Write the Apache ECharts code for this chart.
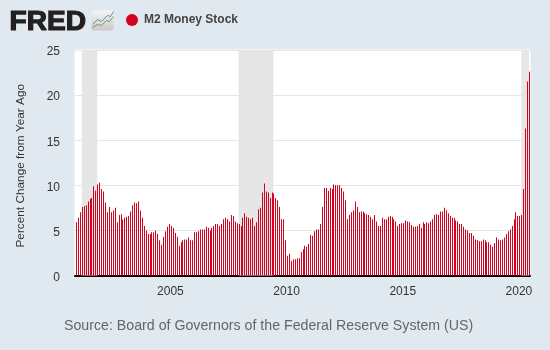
<!DOCTYPE html>
<html>
<head>
<meta charset="utf-8">
<style>
  html, body { margin: 0; padding: 0; background: #e1e9f0; }
  #main { width: 550px; height: 350px; }
</style>
<script src="https://cdn.jsdelivr.net/npm/echarts@6/dist/echarts.min.js"></script>
</head>
<body>
<div id="main"></div>
<script>
// one row per year, percent change from year ago
let m2Change = [
  5.9, 6.4, 7.0, 7.6, 7.7, 7.8, 8.2, 8.5, 8.6, 9.9, 9.4, 10.1,
  10.3, 9.6, 9.3, 8.1, 7.0, 7.6, 7.0, 7.2, 7.5, 5.9, 6.7, 6.8,
  6.2, 6.4, 6.5, 6.6, 7.1, 7.8, 8.1, 8.0, 8.2, 7.2, 6.4, 5.5,
  5.0, 4.6, 4.6, 4.8, 4.8, 5.0, 4.6, 3.9, 3.4, 4.3, 4.9, 5.4,
  5.7, 5.5, 5.3, 4.7, 4.3, 3.3, 3.7, 3.9, 4.0, 4.0, 4.2, 3.9,
  3.9, 4.8, 4.8, 4.9, 5.1, 5.1, 5.1, 5.4, 5.3, 5.0, 5.3, 5.5,
  5.7, 5.7, 5.5, 5.7, 6.25, 6.4, 6.25, 6.0, 6.7, 6.6, 6.0, 5.8,
  5.7, 5.5, 6.4, 6.9, 6.5, 6.4, 6.25, 6.4, 5.5, 5.9, 7.35, 7.5,
  9.2, 10.2, 9.3, 9.2, 8.6, 9.2, 9.1, 8.6, 8.35, 7.6, 6.25, 6.25,
  3.9, 2.2, 2.4, 1.6, 1.8, 1.8, 1.9, 1.9, 2.6, 2.9, 3.3, 3.2,
  3.5, 4.5, 4.4, 4.9, 5.1, 5.1, 5.7, 7.6, 9.7, 9.7, 9.4, 9.7,
  9.6, 10.1, 10.0, 10.0, 10.0, 9.7, 9.3, 8.35, 6.25, 6.7, 7.0, 7.2,
  8.2, 7.6, 7.0, 7.1, 7.1, 6.9, 6.8, 6.7, 6.5, 6.25, 6.7, 6.0,
  5.5, 5.5, 6.4, 6.25, 6.25, 6.5, 6.6, 6.5, 6.25, 6.0, 5.5, 5.7,
  5.8, 5.8, 6.1, 6.0, 5.9, 5.6, 5.4, 5.4, 5.5, 5.7, 5.3, 5.9,
  5.7, 5.9, 5.8, 6.0, 6.25, 6.7, 6.8, 6.7, 7.1, 7.1, 7.5, 7.2,
  6.9, 6.6, 6.4, 6.4, 6.1, 6.0, 5.7, 5.7, 5.4, 5.1, 5.0, 4.7,
  4.7, 4.4, 4.0, 3.9, 3.8, 3.8, 4.0, 3.9, 3.7, 3.7, 3.4, 3.2,
  3.6, 4.2, 4.0, 3.9, 4.0, 4.2, 4.6, 4.9, 5.1, 5.5, 6.25, 7.0,
  6.6, 6.6, 6.7, 9.6, 16.3, 21.5, 22.6
]
let tickYears = ["2005", "2010", "2015", "2020"]
let recessions = [["2001-04", "2001-12"], ["2008-01", "2009-07"], ["2020-03", "2020-07"]]

let months = m2Change.map((v, i) => {
  let year = 2001 + Math.floor(i / 12)
  let month = (i % 12) + 1
  return year + "-" + (month < 10 ? "0" + month : month)
})

function isTick(index, value) {
  return value.endsWith("-01") && tickYears.includes(value.slice(0, 4))
}

// plain bar antialiases to pink at this width, so snap each bar to a whole pixel
function renderBar(params, api) {
  let top = api.coord([api.value(0), api.value(1)])
  let base = api.coord([api.value(0), 0])
  return {
    type: 'rect',
    shape: { x: Math.round(top[0]), y: top[1], width: 1, height: base[1] - top[1] },
    style: { fill: api.visual('color') }
  }
}

var myChart = echarts.init(document.getElementById('main'))

var option = {
  backgroundColor: '#e1e9f0',
  animation: false,
  textStyle: { fontFamily: 'Liberation Sans' },
  legend: {
    left: 121,
    top: 9,
    itemWidth: 12,
    itemHeight: 12,
    icon: 'circle',
    textStyle: { fontSize: 12, fontWeight: 'bold', color: '#444', fontFamily: 'Liberation Sans', padding: [0, 0, 0, 1] }
  },
  grid: {
    left: 75,
    width: 455,
    top: 50,
    height: 225.5,
    show: true,
    backgroundColor: '#fff',
    borderColor: '#fff',
    borderWidth: 1
  },
  xAxis: {
    type: 'category',
    data: months,
    axisLine: { lineStyle: { color: '#000', width: 2 } },
    axisTick: { interval: isTick, length: 10, lineStyle: { color: '#c0d0e0' }, alignWithLabel: true },
    axisLabel: {
      interval: isTick,
      formatter: v => v.slice(0, 4),
      color: '#333',
      fontSize: 12,
      margin: 10,
      padding: [0, 0, 0, 3]
    },
    splitLine: { show: false }
  },
  yAxis: {
    type: 'value',
    min: 0,
    max: 25,
    interval: 5,
    name: 'Percent Change from Year Ago',
    nameLocation: 'middle',
    nameGap: 48,
    nameTextStyle: { color: '#333', fontSize: 11.8, padding: [0, 6, 0, 0] },
    axisLine: { show: false },
    axisTick: { show: false },
    // top aligned with a small line height sits the numbers just under each gridline
    axisLabel: {
      color: '#333',
      fontSize: 12,
      margin: 15,
      verticalAlign: 'top',
      verticalAlignMinLabel: 'top',
      verticalAlignMaxLabel: 'top',
      lineHeight: 4
    },
    splitLine: { lineStyle: { color: '#e6e6e6', width: 1 } }
  },
  series: [
    {
      name: 'M2 Money Stock',
      type: 'custom',
      renderItem: renderBar,
      data: months.map((m, i) => [m, m2Change[i]]),
      encode: { x: 0, y: 1 },
      itemStyle: { color: '#d6001f' },
      markArea: {
        silent: true,
        itemStyle: { color: '#e6e6e6' },
        data: recessions.map(r => [{ xAxis: r[0], yAxis: 0 }, { xAxis: r[1], yAxis: 25 }])
      },
      z: 3
    }
  ],
  graphic: [
    {
      type: 'text',
      left: 9,
      top: 8,
      scaleX: 1.04,
      style: { text: 'FRED', fontFamily: 'Liberation Sans', fontWeight: 'bold', fontSize: 27, fill: '#231f20', stroke: '#231f20', lineWidth: 1.2 }
    },
    {
      type: 'group',
      left: 90,
      top: 9,
      children: [
        {
          type: 'rect',
          shape: { x: 0, y: 0, width: 22, height: 20, r: 2 },
          style: {
            fill: new echarts.graphic.LinearGradient(0, 0, 0, 1, [
              { offset: 0, color: '#f5f5f5' },
              { offset: 1, color: '#c9c9c9' }
            ])
          }
        },
        {
          type: 'polyline',
          shape: { points: [[1, 14], [6, 9], [10, 11], [16, 5], [19, 6], [22, 1]] },
          style: { fill: 'none', stroke: '#5f8fb4', lineWidth: 1 }
        },
        {
          type: 'polyline',
          shape: { points: [[1, 17], [6, 14], [10, 15], [15, 10], [18, 11], [22, 6]] },
          style: { fill: 'none', stroke: '#6f9e4f', lineWidth: 1 }
        }
      ]
    },
    {
      type: 'text',
      left: 64,
      top: 319,
      style: {
        text: 'Source: Board of Governors of the Federal Reserve System (US)',
        fontFamily: 'Liberation Sans',
        fontSize: 14.2,
        fill: '#666'
      }
    }
  ]
}

myChart.setOption(option)
</script>
</body>
</html>
